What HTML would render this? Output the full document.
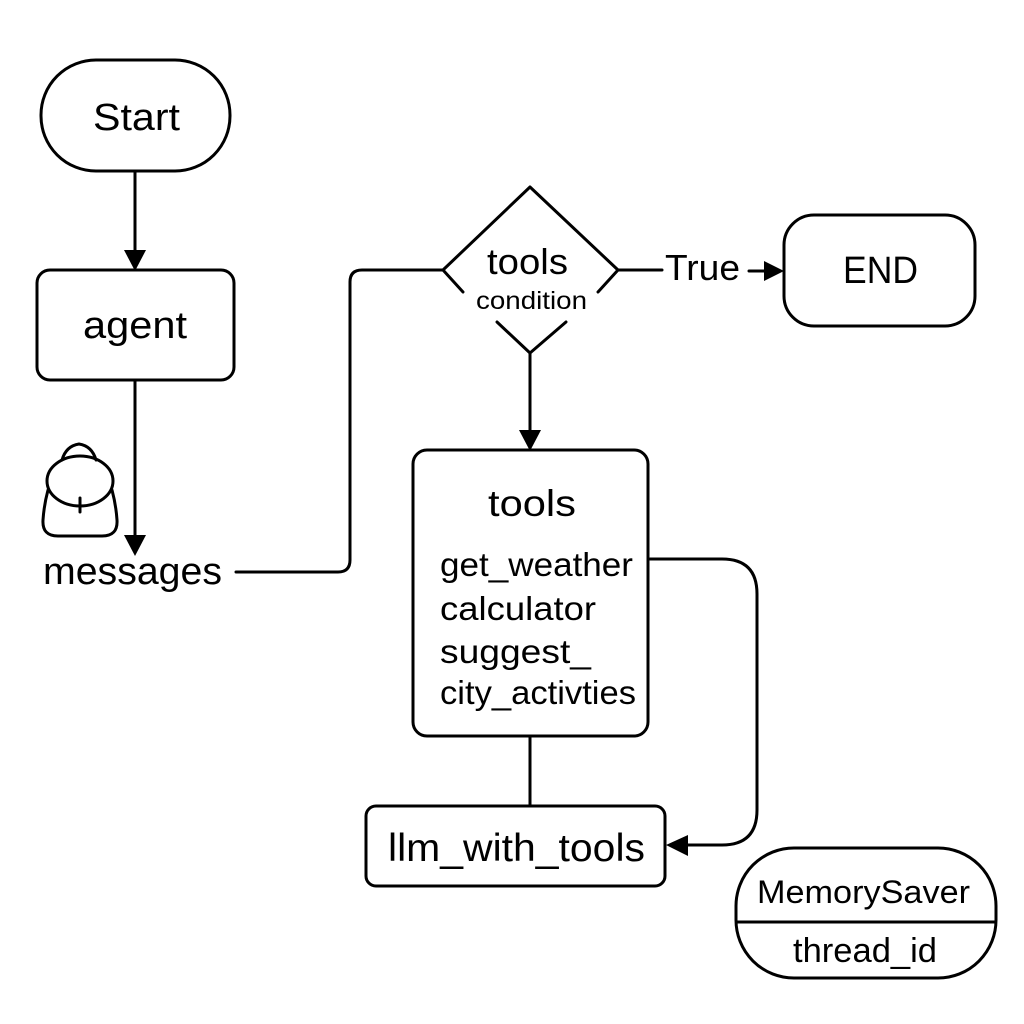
<!DOCTYPE html>
<html><head><meta charset="utf-8"><style>
html,body{margin:0;padding:0;background:#fff;}
svg{display:block;}
text{font-family:"Liberation Sans",sans-serif;fill:#000;}
</style></head><body>
<svg width="1024" height="1024" viewBox="0 0 1024 1024" xmlns="http://www.w3.org/2000/svg">
<rect width="1024" height="1024" fill="#fff"/>
<g fill="none" stroke="#000" stroke-width="3" stroke-linecap="round" stroke-linejoin="round">
  <rect x="41" y="60" width="189" height="111" rx="55"/>
  <rect x="37" y="270" width="197" height="110" rx="13"/>
  <line x1="135" y1="171" x2="135" y2="250"/>
  <line x1="135" y1="380" x2="135" y2="535"/>
  <path d="M236 572 H338 Q350 572 350 560 V282 Q350 270 362 270 H443"/>
  <polyline points="463,292 443,270 530,187 618,270 598,292"/>
  <polyline points="497,322 530,353 566,322"/>
  <line x1="530" y1="353" x2="530" y2="430"/>
  <line x1="618" y1="270" x2="662" y2="270"/>
  <line x1="749" y1="271" x2="765" y2="271"/>
  <rect x="784" y="215" width="191" height="111" rx="30"/>
  <rect x="413" y="450" width="235" height="286" rx="14"/>
  <line x1="530" y1="736" x2="530" y2="806"/>
  <rect x="366" y="806" width="299" height="80" rx="10"/>
  <path d="M650 559 H722 Q757 559 757 594 V810 Q757 845 722 845 H688"/>
  <rect x="736" y="848" width="260" height="130" rx="58"/>
  <line x1="737" y1="922" x2="995" y2="922"/>
  <!-- bag icon -->
  <path d="M62 460 Q66 446 79 444 Q92 446 96 460"/>
  <ellipse cx="80" cy="481" rx="33" ry="25"/>
  <path d="M48 490 Q44 505 43 520 Q42 536 58 536 H102 Q118 536 117 520 Q116 505 112 490"/>
  <line x1="80" y1="498" x2="80" y2="512"/>
</g>
<g fill="#000">
  <polygon points="124,250 146,250 135,271"/>
  <polygon points="124,535 146,535 135,556"/>
  <polygon points="519,430 541,430 530,451"/>
  <polygon points="764,261 764,281 784,271"/>
  <polygon points="688,835 688,856 666,845"/>
</g>
<g lengthAdjust="spacingAndGlyphs">
<text x="93" y="130" font-size="38" textLength="87" lengthAdjust="spacingAndGlyphs">Start</text>
<text x="83" y="338" font-size="38" textLength="104" lengthAdjust="spacingAndGlyphs">agent</text>
<text x="43" y="584" font-size="38" textLength="179" lengthAdjust="spacingAndGlyphs">messages</text>
<text x="487" y="274" font-size="36" textLength="81" lengthAdjust="spacingAndGlyphs">tools</text>
<text x="476" y="309" font-size="25" textLength="111" lengthAdjust="spacingAndGlyphs">condition</text>
<text x="665" y="280" font-size="36" textLength="75" lengthAdjust="spacingAndGlyphs">True</text>
<text x="843" y="283" font-size="38" textLength="75" lengthAdjust="spacingAndGlyphs">END</text>
<text x="488" y="516" font-size="37" textLength="88" lengthAdjust="spacingAndGlyphs">tools</text>
<text x="440" y="576" font-size="33" textLength="193" lengthAdjust="spacingAndGlyphs">get_weather</text>
<text x="440" y="620" font-size="33" textLength="156" lengthAdjust="spacingAndGlyphs">calculator</text>
<text x="440" y="663" font-size="33" textLength="151" lengthAdjust="spacingAndGlyphs">suggest_</text>
<text x="440" y="704" font-size="33" textLength="196" lengthAdjust="spacingAndGlyphs">city_activties</text>
<text x="388" y="861" font-size="39" textLength="257" lengthAdjust="spacingAndGlyphs">llm_with_tools</text>
<text x="757" y="903" font-size="32" textLength="213" lengthAdjust="spacingAndGlyphs">MemorySaver</text>
<text x="793" y="962" font-size="34" textLength="144" lengthAdjust="spacingAndGlyphs">thread_id</text>
</g>
</svg>
</body></html>
